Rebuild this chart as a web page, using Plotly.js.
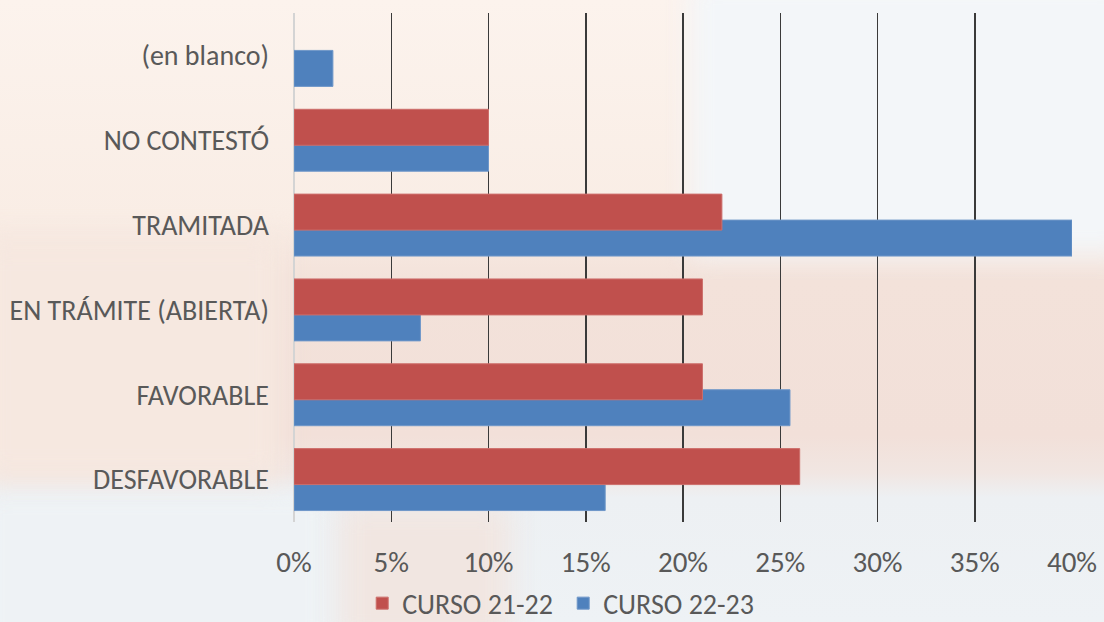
<!DOCTYPE html>
<html>
<head>
<meta charset="utf-8">
<script src="https://cdn.plot.ly/plotly-3.0.1.min.js"></script>
<style>
  html, body { margin: 0; padding: 0; width: 1104px; height: 622px; overflow: hidden; }
  #bg { position: absolute; left: 0; top: 0; width: 1104px; height: 622px; overflow: hidden;
        background: linear-gradient(to bottom, #fcf3ed 0%, #f9ede5 35%, #f3e2da 45%, #f2e0d9 70%, #f1e6e2 76%, #edf0f3 80%, #eef2f5 100%); }
  .blob { position: absolute; filter: blur(14px); }
  #chart { position: absolute; left: 0; top: 0; width: 1104px; height: 622px; }
</style>
</head>
<body>
<div id="bg">
  <div class="blob" style="left:690px; top:-20px; width:440px; height:275px; background:#f3f6f9;"></div>
  <div class="blob" style="left:-20px; top:490px; width:350px; height:160px; background:#eef2f5;"></div>
  <div class="blob" style="left:340px; top:505px; width:170px; height:140px; background:#f1e6e1;"></div>
  <div class="blob" style="left:-20px; top:240px; width:300px; height:240px; background:#f6e8e0;"></div>
</div>
<div id="chart"></div>
<script>
// Categories top-to-bottom
const categories = ["(en blanco)", "NO CONTESTÓ", "TRAMITADA", "EN TRÁMITE (ABIERTA)", "FAVORABLE", "DESFAVORABLE"];
const curso2122 = [null, 0.10, 0.22, 0.21, 0.21, 0.26];
const curso2223 = [0.02, 0.10, 0.40, 0.065, 0.255, 0.16];
const xTickVals = [0, 0.05, 0.10, 0.15, 0.20, 0.25, 0.30, 0.35, 0.40];
const xTickText = ["0%", "5%", "10%", "15%", "20%", "25%", "30%", "35%", "40%"];
const seriesNames = ["CURSO 21-22", "CURSO 22-23"];

const FONT = "Carlito, Calibri, Lato, sans-serif";
const TXT = "#595959";

const traces = [
  {
    type: "bar", orientation: "h", name: seriesNames[1],
    y: categories, x: curso2223,
    width: 0.424, offset: -0.059,
    marker: { color: "#4f81bd", line: { color: "#6f97c9", width: 1 } },
    showlegend: true, legendrank: 2, hoverinfo: "x+y"
  },
  {
    type: "bar", orientation: "h", name: seriesNames[0],
    y: categories, x: curso2122,
    width: 0.424, offset: -0.365,
    marker: { color: "#c0504d", line: { color: "#cd6e6b", width: 1 } },
    showlegend: true, legendrank: 1, hoverinfo: "x+y"
  }
];

const layout = {
  width: 1104, height: 622,
  margin: { l: 294, r: 32, t: 13, b: 100, autoexpand: false },
  paper_bgcolor: "rgba(0,0,0,0)",
  plot_bgcolor: "rgba(0,0,0,0)",
  barmode: "overlay",
  font: { family: FONT, color: TXT },
  xaxis: {
    range: [0, 0.40],
    tickvals: xTickVals, ticktext: xTickText,
    showgrid: true, gridcolor: "#3a3a3a", gridwidth: 1.5,
    zeroline: true, zerolinecolor: "#d4d4d4", zerolinewidth: 1.5,
    showline: false, ticks: "",
    tickfont: { family: FONT, size: 29, color: TXT },
    ticklabelstandoff: 20,
    automargin: false,
    fixedrange: true
  },
  yaxis: {
    type: "category",
    categoryorder: "array", categoryarray: categories,
    autorange: "reversed",
    showgrid: false, zeroline: false, showline: false, ticks: "",
    tickfont: { family: FONT, size: 28, color: TXT },
    ticklabelstandoff: 24,
    automargin: false,
    fixedrange: true
  },
  legend: {
    orientation: "h",
    x: 0.346, xanchor: "center",
    y: -0.16, yanchor: "middle",
    font: { family: FONT, size: 28, color: TXT },
    bgcolor: "rgba(0,0,0,0)",
    traceorder: "normal",
    itemwidth: 30,
    entrywidth: 156, entrywidthmode: "pixels"
  },
  showlegend: true
};

Plotly.newPlot("chart", traces, layout, { displayModeBar: false, staticPlot: true });
</script>
</body>
</html>
